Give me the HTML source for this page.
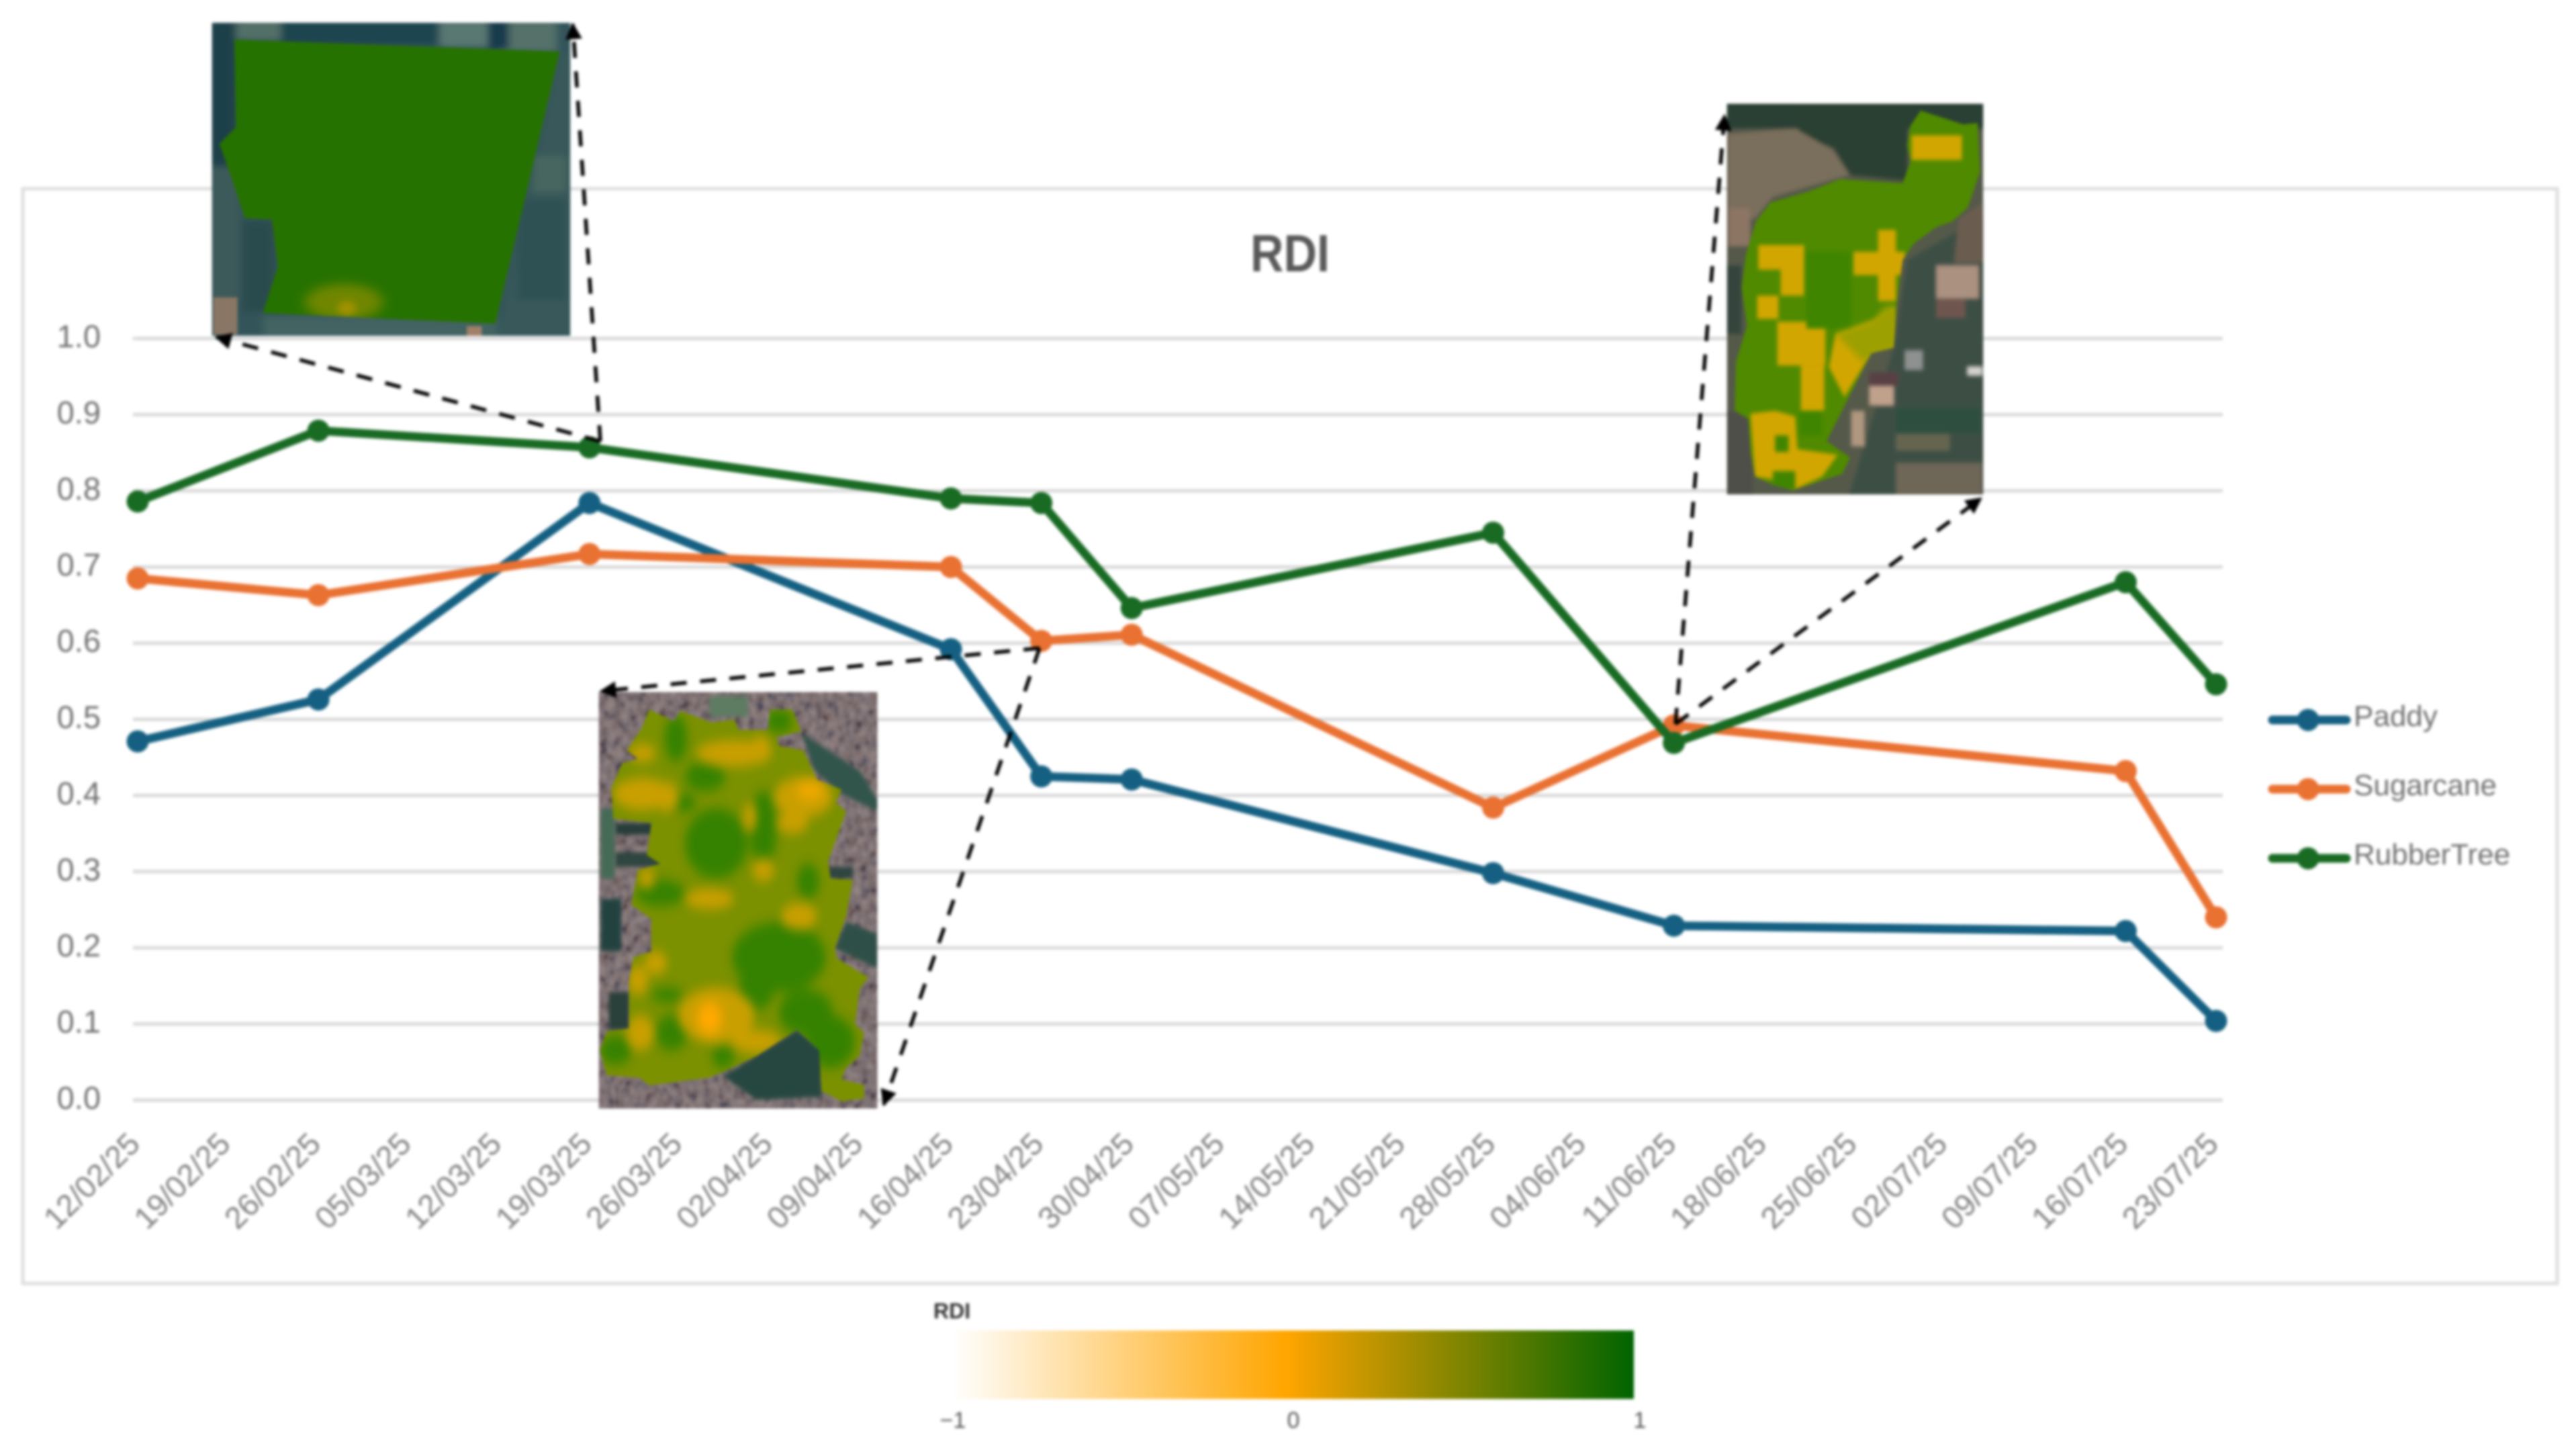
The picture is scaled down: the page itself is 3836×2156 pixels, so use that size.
<!DOCTYPE html>
<html lang="en">
<head>
<meta charset="utf-8">
<title>RDI chart</title>
<style>
html,body{margin:0;padding:0;background:#fff;width:3836px;height:2156px;overflow:hidden}
svg{display:block;filter:blur(2px)}
text{font-family:"Liberation Sans",sans-serif}
</style>
</head>
<body>
<svg id="page" xmlns="http://www.w3.org/2000/svg" width="3836" height="2156" viewBox="0 0 3836 2156">
<defs>
<filter id="b6" x="-20%" y="-20%" width="140%" height="140%"><feGaussianBlur stdDeviation="6"/></filter>
<filter id="b12" x="-30%" y="-30%" width="160%" height="160%"><feGaussianBlur stdDeviation="12"/></filter>
<filter id="b20" x="-40%" y="-40%" width="180%" height="180%"><feGaussianBlur stdDeviation="20"/></filter>
<filter id="urban" x="0" y="0" width="100%" height="100%">
<feTurbulence type="fractalNoise" baseFrequency="0.03" numOctaves="2" seed="4" result="n"/>
<feColorMatrix in="n" type="matrix" values="1.8 0 0 0 -0.42  1.5 0.2 0 0 -0.45  1.3 0.4 0 0 -0.45  0 0 0 0 1"/>
</filter>
<linearGradient id="rdi-gradient" x1="0" x2="1" y1="0" y2="0">
<stop offset="0" stop-color="#ffffff"/>
<stop offset="0.49" stop-color="#ffa500"/>
<stop offset="1" stop-color="#006400"/>
</linearGradient>
<marker id="arrowhead" viewBox="0 0 10 10" refX="9" refY="5" markerWidth="4.5" markerHeight="4.5" markerUnits="strokeWidth" orient="auto"><path d="M0 0L10 5L0 10z" fill="#000"/></marker>
<clipPath id="clip-1"><polygon points="155,165 1240,215 1025,1350 250,1305 300,1110 280,915 190,910 150,760 105,600 160,530"/></clipPath>
<clipPath id="clip-2"><polygon points="320,130 430,170 460,135 600,175 700,165 720,200 850,200 860,130 960,130 1000,205 890,225 900,255 1010,270 1070,370 1180,405 1155,450 1200,480 1120,650 1130,710 1230,715 1200,840 1150,950 1160,985 1300,1050 1260,1090 1240,1210 1280,1240 1260,1320 1200,1360 1180,1400 1280,1420 1280,1465 1180,1475 1090,1440 1080,1300 980,1230 800,1320 650,1375 580,1395 320,1420 280,1395 130,1385 100,1300 130,1235 230,1225 230,1060 250,980 330,960 330,850 240,800 270,680 370,660 310,630 330,520 160,505 150,400 200,315 270,300 220,270 290,190"/></clipPath>
<clipPath id="clip-3"><polygon points="960,85 1150,135 1215,130 1225,310 1170,440 1100,490 1030,510 930,570 880,630 855,780 840,950 740,970 540,1290 645,1350 610,1410 390,1470 300,1450 220,1420 200,1330 190,1210 130,1180 135,1000 185,870 160,730 180,610 225,490 290,420 460,380 600,335 880,350 915,270 900,210 915,140"/></clipPath>
<clipPath id="box-1"><rect x="80" y="95" width="1195" height="1305"/></clipPath>
<clipPath id="box-2"><rect x="95" y="70" width="1245" height="1430"/></clipPath>
<clipPath id="box-3"><rect x="95" y="60" width="1145" height="1425"/></clipPath>
</defs>

<rect width="3836" height="2156" fill="#fff"/>
<rect x="34" y="281" width="3774" height="1630" fill="#fff" stroke="#dedede" stroke-width="5"/>

<g id="grid-layer"></g>
<g id="y-tick-layer"></g>
<g id="x-tick-layer"></g>

<text x="1921" y="404" font-size="78" font-weight="700" fill="#595959" text-anchor="middle" textLength="118" lengthAdjust="spacingAndGlyphs">RDI</text>

<!-- Rubber tree inset -->
<g transform="translate(280,0) scale(0.4464,0.3571)">
<g clip-path="url(#box-1)">
<rect x="80" y="95" width="1195" height="1305" fill="#33555a"/>
<g filter="url(#b12)">
<rect x="70" y="90" width="90" height="600" fill="#1f3f48"/>
<rect x="70" y="700" width="100" height="560" fill="#3c5a5a"/>
<rect x="310" y="85" width="520" height="100" fill="#1f4450"/>
<rect x="840" y="85" width="170" height="110" fill="#5a7872"/>
<rect x="160" y="85" width="150" height="80" fill="#527068"/>
<rect x="1040" y="85" width="190" height="130" fill="#55716a"/>
<rect x="1000" y="85" width="70" height="120" fill="#143a4c"/>
<polygon points="1240,220 1285,220 1285,1410 1030,1410" fill="#37585a"/>
<rect x="1150" y="650" width="110" height="150" fill="#47665f"/>
<rect x="1100" y="830" width="160" height="420" fill="#2f5152"/>
<rect x="180" y="920" width="110" height="380" fill="#2c4c4e"/>
<rect x="250" y="1320" width="780" height="90" fill="#426462"/>
</g>
<rect x="85" y="1240" width="80" height="155" fill="#8a7665"/>
<rect x="930" y="1360" width="50" height="40" fill="#a08068"/>
<polygon points="155,165 1240,215 1025,1350 250,1305 300,1110 280,915 190,910 150,760 105,600 160,530" fill="#267200"/>
<g clip-path="url(#clip-1)"><ellipse cx="520" cy="1260" rx="130" ry="75" fill="#6f8600" filter="url(#b20)"/><ellipse cx="530" cy="1285" rx="30" ry="30" fill="#a39200" filter="url(#b12)"/></g>
</g>
</g>

<!-- Paddy inset -->
<g transform="translate(860,1000) scale(0.3333,0.4337)">
<g clip-path="url(#box-2)">
<rect x="95" y="70" width="1245" height="1430" fill="#675a5e"/>
<rect x="95" y="70" width="1245" height="1430" filter="url(#urban)" opacity="0.28"/>
<g filter="url(#b6)">
<rect x="105" y="470" width="60" height="240" fill="#456b56"/>
<rect x="105" y="780" width="90" height="180" fill="#24433f"/>
<rect x="590" y="85" width="170" height="70" fill="#5d7b62"/>
<rect x="170" y="520" width="170" height="40" fill="#283d3a"/>
<rect x="170" y="620" width="200" height="50" fill="#2f4440"/>
<polygon points="1000,210 1260,340 1340,440 1340,480 1180,420 1060,340" fill="#33544c"/>
<polygon points="1150,950 1340,1020 1340,900 1200,860" fill="#2e4f47"/>
<polygon points="650,1390 980,1230 1090,1300 1090,1460 800,1470" fill="#27463f"/>
<rect x="140" y="1100" width="90" height="130" fill="#2c3f3a"/>
<rect x="1120" y="670" width="110" height="40" fill="#2f4440"/>
</g>
<polygon points="320,130 430,170 460,135 600,175 700,165 720,200 850,200 860,130 960,130 1000,205 890,225 900,255 1010,270 1070,370 1180,405 1155,450 1200,480 1120,650 1130,710 1230,715 1200,840 1150,950 1160,985 1300,1050 1260,1090 1240,1210 1280,1240 1260,1320 1200,1360 1180,1400 1280,1420 1280,1465 1180,1475 1090,1440 1080,1300 980,1230 800,1320 650,1375 580,1395 320,1420 280,1395 130,1385 100,1300 130,1235 230,1225 230,1060 250,980 330,960 330,850 240,800 270,680 370,660 310,630 330,520 160,505 150,400 200,315 270,300 220,270 290,190" fill="#7b9100"/>
<g clip-path="url(#clip-2)">
<g fill="#2f8100" filter="url(#b20)" opacity="0.9">
<ellipse cx="620" cy="590" rx="140" ry="120"/>
<ellipse cx="900" cy="980" rx="210" ry="120"/>
<ellipse cx="800" cy="1090" rx="80" ry="70"/>
<ellipse cx="1020" cy="1170" rx="120" ry="80"/>
<ellipse cx="1130" cy="1270" rx="110" ry="90"/>
<ellipse cx="440" cy="230" rx="50" ry="80"/>
<ellipse cx="570" cy="360" rx="90" ry="50"/>
<ellipse cx="370" cy="760" rx="110" ry="45"/>
<ellipse cx="830" cy="540" rx="60" ry="130"/>
<ellipse cx="1030" cy="720" rx="50" ry="60"/>
<ellipse cx="170" cy="1300" rx="70" ry="50"/>
<ellipse cx="420" cy="1240" rx="70" ry="60"/>
<ellipse cx="400" cy="1110" rx="70" ry="25"/>
<ellipse cx="900" cy="170" rx="60" ry="40"/>
<ellipse cx="650" cy="1320" rx="50" ry="40"/>
<ellipse cx="480" cy="450" rx="50" ry="30"/>
</g>
<g fill="#d8a200" filter="url(#b20)" opacity="0.85">
<ellipse cx="1010" cy="430" rx="130" ry="70"/>
<ellipse cx="960" cy="520" rx="70" ry="35"/>
<ellipse cx="290" cy="420" rx="130" ry="55"/>
<ellipse cx="400" cy="430" rx="50" ry="50"/>
<ellipse cx="700" cy="280" rx="170" ry="45"/>
<ellipse cx="820" cy="250" rx="40" ry="30"/>
<ellipse cx="590" cy="780" rx="110" ry="35"/>
<ellipse cx="620" cy="1180" rx="170" ry="95"/>
<ellipse cx="800" cy="1270" rx="110" ry="40"/>
<ellipse cx="350" cy="1000" rx="50" ry="40"/>
<ellipse cx="310" cy="710" rx="35" ry="35"/>
<ellipse cx="990" cy="840" rx="80" ry="45"/>
<ellipse cx="290" cy="280" rx="60" ry="30"/>
<ellipse cx="270" cy="1060" rx="45" ry="50"/>
<ellipse cx="770" cy="500" rx="30" ry="50"/>
<ellipse cx="280" cy="1240" rx="60" ry="60"/>
<ellipse cx="830" cy="680" rx="50" ry="40"/>
</g>
<ellipse cx="590" cy="1190" rx="55" ry="55" fill="#ffa800" filter="url(#b20)"/>
<ellipse cx="1040" cy="410" rx="60" ry="30" fill="#f0a800" filter="url(#b20)"/>
</g>
</g>
</g>

<!-- Sugarcane inset -->
<g transform="translate(2540,130) scale(0.3333,0.4082)">
<g clip-path="url(#box-3)">
<rect x="95" y="60" width="1145" height="1425" fill="#55594a"/>
<g filter="url(#b6)">
<rect x="85" y="50" width="1160" height="100" fill="#2c4034"/>
<polygon points="400,50 900,50 900,340 650,320 570,220 420,180" fill="#2b4033"/>
<polygon points="100,170 400,150 570,230 640,320 300,400 220,480 100,480" fill="#7a6e5c"/>
<rect x="100" y="440" width="100" height="140" fill="#8c7564"/>
<rect x="90" y="650" width="70" height="250" fill="#35453c"/>
<rect x="90" y="1180" width="120" height="310" fill="#4f5048"/>
<polygon points="900,630 1245,470 1245,1490 640,1490 840,950" fill="#3c5044"/>
<polygon points="1130,480 1240,420 1240,640 1110,640" fill="#6b5d50"/>
<rect x="1030" y="650" width="190" height="120" fill="#ab9180"/>
<rect x="1030" y="770" width="130" height="70" fill="#6e5650"/>
<rect x="730" y="1090" width="110" height="70" fill="#c0a28c"/>
<rect x="730" y="1040" width="130" height="50" fill="#584145"/>
<rect x="650" y="1180" width="60" height="130" fill="#b09780"/>
<rect x="850" y="1170" width="380" height="90" fill="#2f4f40"/>
<rect x="850" y="1265" width="240" height="60" fill="#65654f"/>
<rect x="850" y="1370" width="385" height="115" fill="#6e6656"/>
<rect x="890" y="960" width="80" height="70" fill="#8e9190"/>
<rect x="1170" y="1020" width="65" height="30" fill="#d6d4d0"/>
</g>
<polygon points="960,85 1150,135 1215,130 1225,310 1170,440 1100,490 1030,510 930,570 880,630 855,780 840,950 740,970 540,1290 645,1350 610,1410 390,1470 300,1450 220,1420 200,1330 190,1210 130,1180 135,1000 185,870 160,730 180,610 225,490 290,420 460,380 600,335 880,350 915,270 900,210 915,140" fill="#4f8a00"/>
<g clip-path="url(#clip-3)">
<g fill="#d2a600" filter="url(#b6)">
<rect x="235" y="575" width="205" height="90"/>
<rect x="335" y="665" width="105" height="95"/>
<rect x="230" y="760" width="95" height="85"/>
<rect x="320" y="855" width="215" height="160"/>
<rect x="425" y="1015" width="105" height="165"/>
<rect x="660" y="600" width="230" height="85"/>
<rect x="770" y="520" width="80" height="260"/>
<rect x="920" y="175" width="225" height="90"/>
<polygon points="580,900 750,850 840,800 850,950 740,970 620,1130 550,1020"/>
<polygon points="200,1190 310,1180 400,1200 410,1320 590,1340 520,1420 390,1470 300,1430 220,1420"/>
</g>
<g fill="#3f8500" filter="url(#b6)">
<rect x="420" y="1185" width="100" height="85"/>
<rect x="310" y="1270" width="60" height="60"/>
<rect x="300" y="1400" width="100" height="70"/>
<rect x="450" y="600" width="200" height="280"/>
</g>
<polygon points="580,900 750,850 800,800 850,800 850,950 700,1000" fill="#9ca000" filter="url(#b12)"/>
</g>
</g>
</g>

<g id="series-layer"></g>

<g fill="none" stroke="#000" stroke-width="5.5" stroke-dasharray="24 20">
<line x1="894" y1="657" x2="322" y2="502" marker-end="url(#arrowhead)"/>
<line x1="894" y1="657" x2="853" y2="36" marker-end="url(#arrowhead)"/>
<line x1="1548" y1="965" x2="895" y2="1029" marker-end="url(#arrowhead)"/>
<line x1="1548" y1="965" x2="1316" y2="1645" marker-end="url(#arrowhead)"/>
<line x1="2495" y1="1078" x2="2568" y2="172" marker-end="url(#arrowhead)"/>
<line x1="2495" y1="1078" x2="2950" y2="742" marker-end="url(#arrowhead)"/>
</g>

<g id="legend-layer"></g>

<g>
<text x="1390" y="1963" font-size="32" font-weight="700" fill="#333">RDI</text>
<rect x="1419" y="1981" width="1014" height="102" fill="url(#rdi-gradient)"/>
<text x="1419" y="2126" font-size="34" fill="#555" text-anchor="middle">−1</text>
<text x="1926" y="2126" font-size="34" fill="#555" text-anchor="middle">0</text>
<text x="2442" y="2126" font-size="34" fill="#555" text-anchor="middle">1</text>
</g>
</svg>

<script>
const dateLabels = ["12/02/25","19/02/25","26/02/25","05/03/25","12/03/25","19/03/25","26/03/25","02/04/25","09/04/25","16/04/25","23/04/25","30/04/25","07/05/25","14/05/25","21/05/25","28/05/25","04/06/25","11/06/25","18/06/25","25/06/25","02/07/25","09/07/25","16/07/25","23/07/25"];
const observedDates = ["12/02/25","26/02/25","19/03/25","16/04/25","23/04/25","30/04/25","28/05/25","11/06/25","16/07/25","23/07/25"];
const yTicks = [0,0.1,0.2,0.3,0.4,0.5,0.6,0.7,0.8,0.9,1.0];
const paddyValues = [0.471,0.526,0.784,0.592,0.425,0.421,0.298,0.229,0.222,0.104];
const sugarcaneValues = [0.685,0.663,0.717,0.700,0.603,0.611,0.384,0.492,0.432,0.240];
const rubberTreeValues = [0.786,0.879,0.857,0.790,0.784,0.646,0.745,0.469,0.680,0.546];
const seriesNames = ["Paddy","Sugarcane","RubberTree"];

const NS = "http://www.w3.org/2000/svg";
const plot = {left: 205, right: 3300, bottom: 1638, top: 504, gridLeft: 198, gridRight: 3310};
const seriesColors = ["#156082","#e97132","#196b24"];
const seriesValues = [paddyValues, sugarcaneValues, rubberTreeValues];

function xScale(label) {
  return plot.left + dateLabels.indexOf(label) * (plot.right - plot.left) / (dateLabels.length - 1);
}
function yScale(v) {
  return plot.bottom - v * (plot.bottom - plot.top);
}
function make(tag, attrs, parent) {
  const node = document.createElementNS(NS, tag);
  for (const k in attrs) node.setAttribute(k, attrs[k]);
  parent.appendChild(node);
  return node;
}

const gridLayer = document.getElementById("grid-layer");
const yLayer = document.getElementById("y-tick-layer");
const xLayer = document.getElementById("x-tick-layer");
const seriesLayer = document.getElementById("series-layer");
const legendLayer = document.getElementById("legend-layer");

yTicks.forEach(function (t) {
  const line = make("line", {x1: plot.gridLeft, x2: plot.gridRight, y1: yScale(t), y2: yScale(t), stroke: "#d9d9d9", "stroke-width": 5}, gridLayer);
  
  
  const label = make("text", {x: 150, y: yScale(t) + 13, "font-size": 47, fill: "#707070", "text-anchor": "end"}, yLayer);
  
  
  label.textContent = t.toFixed(1);
});

dateLabels.forEach(function (d) {
  const px = xScale(d) + 6;
  const py = 1706;
  const label = make("text", {x: px, y: py, "font-size": 46, fill: "#808080", "text-anchor": "end", transform: "rotate(-45 " + px + " " + py + ")"}, xLayer);
  
  
  label.textContent = d;
});

seriesValues.forEach(function (values, s) {
  const pts = values.map(function (v, i) { return xScale(observedDates[i]) + "," + yScale(v); }).join(" ");
  const path = make("polyline", {points: pts, fill: "none", stroke: seriesColors[s], "stroke-width": 13, "stroke-linejoin": "round", "stroke-linecap": "round"}, seriesLayer);
  
  
  values.forEach(function (v, i) {
    const dot = make("circle", {cx: xScale(observedDates[i]), cy: yScale(v), r: 16.5, fill: seriesColors[s]}, seriesLayer);
    
    
  });
});

seriesNames.forEach(function (name, s) {
  const ly = 1072 + s * 103;
  const line = make("line", {x1: 3384, x2: 3494, y1: ly, y2: ly, stroke: seriesColors[s], "stroke-width": 13, "stroke-linecap": "round"}, legendLayer);
  
  
  const dot = make("circle", {cx: 3437, cy: ly, r: 16.5, fill: seriesColors[s]}, legendLayer);
  
  
  const label = make("text", {x: 3505, y: ly + 9, "font-size": 44, fill: "#707070"}, legendLayer);
  
  
  label.textContent = name;
});
</script>
</body>
</html>
